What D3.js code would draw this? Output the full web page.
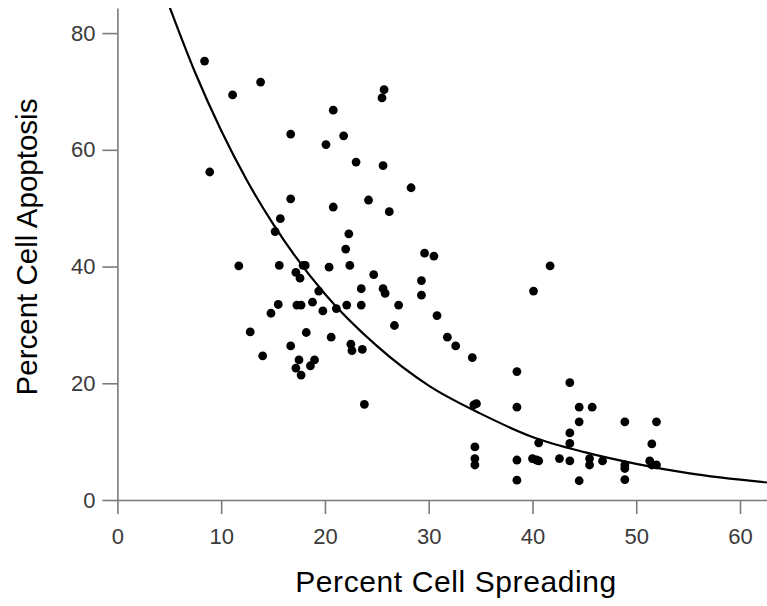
<!DOCTYPE html>
<html>
<head>
<meta charset="utf-8">
<script src="https://cdn.jsdelivr.net/npm/d3@7"></script>
<style>
  html, body { margin: 0; padding: 0; background: #fff; }
  svg { display: block; }
</style>
</head>
<body>
<div id="chart"></div>
<script>
// Percent Cell Spreading (x) for each observation
const spreading = [
  8.4, 11.1, 13.8, 20.8, 16.7, 21.8, 20.1, 23.0, 8.9, 16.7,
  25.7, 25.5, 25.6, 28.3, 24.2, 20.8, 26.2, 15.7, 15.2, 22.3,
  22.0, 29.6, 30.5, 11.7, 15.6, 17.9, 18.1, 20.4, 22.4, 17.2,
  17.6, 24.7, 29.3, 23.5, 25.6, 25.8, 29.3, 19.4, 15.5, 17.3,
  17.7, 18.8, 19.8, 21.1, 22.1, 23.5, 27.1, 14.8, 30.8, 26.7,
  12.8, 18.2, 20.6, 31.8, 32.6, 16.7, 22.5, 22.6, 23.6, 34.2,
  14.0, 17.5, 19.0, 18.6, 17.2, 17.7, 23.8, 41.7, 40.1, 38.5,
  43.6, 34.6, 34.35, 38.5, 44.5, 45.75, 44.5, 48.9, 51.95, 43.6,
  40.6, 43.6, 51.5, 34.45, 34.45, 34.45, 38.5, 40.0, 40.4, 40.6,
  42.6, 43.6, 45.5, 45.5, 46.75, 48.9, 48.9, 51.3, 51.5, 51.95,
  38.5, 44.5, 48.9
];
// Percent Cell Apoptosis (y) for each observation
const apoptosis = [
  75.2, 69.4, 71.6, 66.8, 62.7, 62.4, 60.9, 57.9, 56.2, 51.6,
  70.3, 68.9, 57.3, 53.5, 51.4, 50.2, 49.4, 48.2, 46.0, 45.6,
  43.0, 42.3, 41.8, 40.1, 40.2, 40.2, 40.2, 39.9, 40.2, 39.0,
  38.0, 38.6, 37.6, 36.2, 36.2, 35.4, 35.1, 35.8, 33.5, 33.4,
  33.4, 33.9, 32.4, 32.8, 33.4, 33.4, 33.4, 32.0, 31.6, 29.9,
  28.8, 28.7, 27.9, 27.9, 26.4, 26.4, 26.7, 25.6, 25.8, 24.4,
  24.7, 24.0, 24.0, 23.0, 22.6, 21.4, 16.4, 40.1, 35.8, 22.0,
  20.1, 16.5, 16.3, 15.9, 15.9, 15.9, 13.4, 13.4, 13.4, 11.5,
  9.8, 9.7, 9.6, 9.1, 7.1, 6.0, 6.85, 7.1, 6.85, 6.7,
  7.1, 6.7, 7.1, 6.0, 6.7, 6.0, 5.4, 6.7, 6.0, 6.0,
  3.4, 3.3, 3.5
];
// Fitted exponential curve
const fitX = [5, 7.5, 10, 12.5, 15, 20, 25, 30, 35, 40, 45, 50, 55, 62.6];
const fitY = [84.6, 73.2, 63.3, 54.7, 47.3, 35.3, 26.4, 19.6, 14.8, 10.8, 8.2, 6.2, 4.6, 3.0];

const xTicks = [0, 10, 20, 30, 40, 50, 60];
const yTicks = [0, 20, 40, 60, 80];
const xTitle = "Percent Cell Spreading";
const yTitle = "Percent Cell Apoptosis";

const W = 767, H = 606;
const mLeft = 117.4, mRight = 767, mTop = 8, mBottom = 500;

const svg = d3.select("#chart").append("svg")
  .attr("width", W).attr("height", H);

const x = d3.scaleLinear().domain([0, 62.6]).range([mLeft, mRight]);
const y = d3.scaleLinear().domain([0, 84.3]).range([mBottom, mTop]);

svg.append("clipPath").attr("id", "clip")
  .append("rect").attr("x", mLeft).attr("y", mTop)
  .attr("width", mRight - mLeft).attr("height", mBottom - mTop);

const font = "Arial, 'Liberation Sans', sans-serif";

// X axis
const gx = svg.append("g").attr("transform", `translate(0,${mBottom})`)
  .call(d3.axisBottom(x).tickValues(xTicks).tickSizeInner(14).tickSizeOuter(0).tickPadding(14));
// Y axis
const gy = svg.append("g").attr("transform", `translate(${mLeft},0)`)
  .call(d3.axisLeft(y).tickValues(yTicks).tickSizeInner(15).tickSizeOuter(0).tickPadding(7));

[gx, gy].forEach(g => {
  g.select(".domain").attr("stroke", "#7a7a7a").attr("stroke-width", 1.6);
  g.selectAll(".tick line").attr("stroke", "#7a7a7a").attr("stroke-width", 1.6);
  g.selectAll(".tick text").attr("fill", "#3a3a3a").attr("font-family", font).attr("font-size", 22);
});

// Fit curve
const line = d3.line().x((d, i) => x(fitX[i])).y(d => y(d)).curve(d3.curveMonotoneX);
svg.append("path").datum(fitY)
  .attr("clip-path", "url(#clip)")
  .attr("d", line)
  .attr("fill", "none").attr("stroke", "#000").attr("stroke-width", 2.2);

// Points
svg.append("g").selectAll("circle").data(spreading)
  .join("circle")
  .attr("cx", d => x(d))
  .attr("cy", (d, i) => y(apoptosis[i]))
  .attr("r", 4.4)
  .attr("fill", "#000");

// Titles
svg.append("text").attr("x", 456).attr("y", 592)
  .attr("text-anchor", "middle").attr("font-family", font).attr("font-size", 30)
  .attr("letter-spacing", 0.6)
  .attr("fill", "#000").text(xTitle);
svg.append("text").attr("transform", `translate(37,247) rotate(-90)`)
  .attr("text-anchor", "middle").attr("font-family", font).attr("font-size", 29.5)
  .attr("fill", "#000").text(yTitle);
</script>
</body>
</html>
